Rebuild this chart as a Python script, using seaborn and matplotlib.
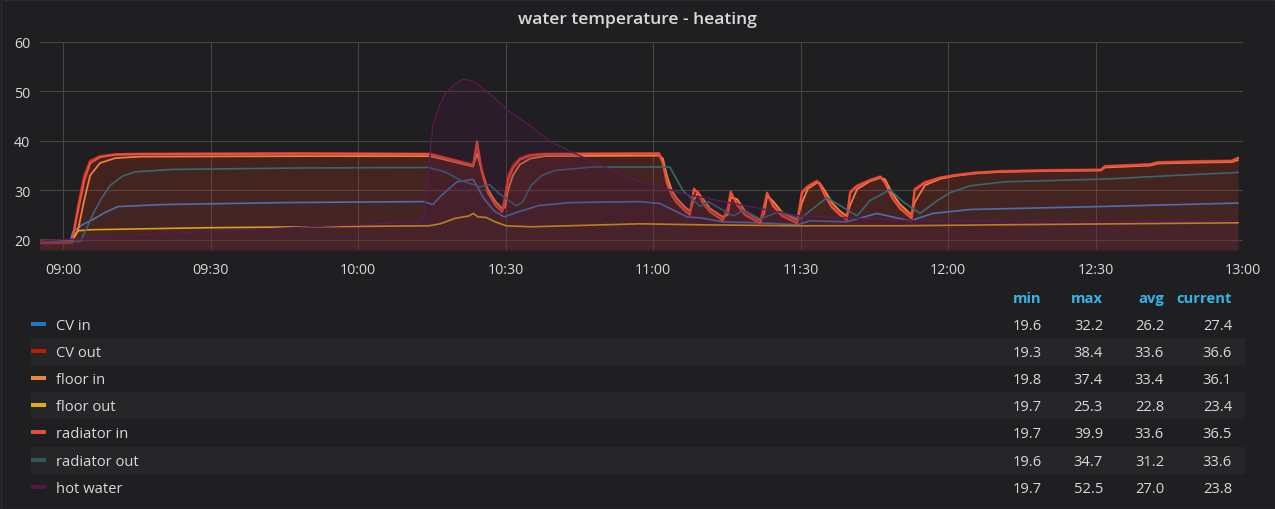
import matplotlib
matplotlib.use("Agg")
import matplotlib.pyplot as plt
import seaborn as sns
import pandas as pd
import numpy as np
from matplotlib.patches import Rectangle

# ---------------- data (minutes after 09:00) ----------------
series_names = ["CV in", "CV out", "floor in", "floor out", "radiator in", "radiator out", "hot water"]
series_colors = ["#1f78c1", "#bf1b00", "#ef843c", "#e5ac0e", "#e24d42", "#2f575e", "#511749"]

t_red = [-4.7, 1.8, 3.05, 4.3, 5.5, 7.5, 10.6, 15.7, 48.2, 74.6, 83.4, 84.2, 85.2, 86.4, 87.9, 89.3,
         89.9, 90.5, 91.5, 92.9, 95.0, 98.0, 121.2, 122.0, 122.8, 123.8, 124.8, 126.5, 127.5, 128.3,
         129.1, 130.2, 131.6, 134.2, 135.2, 135.8, 137.1, 138.7, 141.8, 142.6, 143.2, 144.4, 146.2,
         149.3, 150.3, 151.5, 153.3, 153.9, 154.9, 156.4, 158.0, 159.4, 160.1, 161.5, 164.1, 166.2,
         167.2, 168.6, 170.2, 172.6, 173.2, 175.3, 178.4, 181.4, 185.5, 190.6, 200.7, 211.1, 211.9,
         221.1, 222.7, 231.2, 237.7, 239.0]
radiator_in = [19.7, 19.7, 26.0, 32.0, 35.5, 36.7, 37.2, 37.3, 37.4, 37.3, 35.0, 39.9, 33.5, 29.5, 27.0, 25.6,
               28.0, 32.0, 34.5, 36.2, 37.0, 37.3, 37.4, 35.5, 31.5, 29.0, 27.5, 25.8, 25.0, 30.3,
               29.5, 27.3, 25.6, 23.9, 26.0, 29.7, 27.0, 25.0, 23.3, 26.5, 29.5, 26.8, 24.8,
               23.3, 29.5, 30.7, 31.8, 31.2, 29.0, 26.5, 25.0, 24.0, 29.5, 30.8, 32.0, 32.7,
               31.5, 28.5, 26.3, 24.3, 30.0, 31.5, 32.5, 33.0, 33.5, 33.8, 34.0, 34.1, 34.8,
               35.2, 35.6, 35.8, 35.9, 36.5]
cv_out = [19.3, 19.3, 27.0, 33.0, 36.0, 36.9, 37.3, 37.4, 37.5, 37.4, 35.2, 38.4, 34.0, 30.0, 27.5, 26.0,
          29.0, 33.0, 35.0, 36.5, 37.2, 37.4, 37.5, 36.0, 32.0, 29.5, 28.0, 26.2, 25.4, 29.8,
          29.8, 27.8, 26.0, 24.3, 26.5, 29.3, 27.5, 25.5, 23.7, 27.0, 29.2, 27.3, 25.2,
          23.7, 29.8, 30.9, 31.9, 31.5, 29.5, 27.0, 25.4, 24.4, 29.8, 31.0, 32.1, 32.8,
          32.0, 29.0, 26.8, 24.7, 30.3, 31.7, 32.6, 33.1, 33.6, 33.9, 34.1, 34.2, 34.9,
          35.3, 35.7, 35.9, 36.0, 36.6]
floor_in = [19.8, 19.8, 22.0, 28.0, 33.0, 35.5, 36.5, 36.8, 36.9, 36.9, 34.8, 37.4, 33.8, 30.2, 27.8, 26.3,
            26.5, 30.0, 33.0, 35.2, 36.4, 36.9, 37.0, 36.4, 33.0, 30.0, 28.4, 26.6, 25.8, 28.0,
            29.5, 28.2, 26.3, 24.6, 25.0, 28.5, 28.2, 25.8, 24.0, 25.2, 28.8, 27.8, 25.6,
            24.0, 27.5, 30.3, 31.5, 31.4, 30.0, 27.5, 25.8, 24.8, 27.0, 30.2, 31.8, 32.5,
            32.2, 29.5, 27.2, 25.0, 27.5, 31.0, 32.3, 32.9, 33.4, 33.7, 33.9, 34.0, 34.6,
            35.0, 35.4, 35.6, 35.7, 36.1]

t_rad_out = [-4.7, 3.5, 5.1, 6.3, 7.9, 9.6, 12.0, 14.6, 22.0, 48.2, 74.4, 77.7, 80.9, 84.8, 86.8, 88.5,
             90.1, 92.1, 93.4, 95.2, 97.4, 100.1, 107.6, 123.4, 126.1, 129.6, 131.2, 136.3, 138.3,
             141.8, 145.8, 149.9, 153.3, 155.4, 157.4, 161.5, 164.1, 168.2, 170.8, 174.3, 177.8,
             180.4, 184.5, 191.4, 202.8, 212.9, 224.3, 239.0]
radiator_out = [19.6, 19.6, 23.0, 25.6, 28.5, 31.0, 32.8, 33.7, 34.2, 34.5, 34.6, 33.7, 32.0, 30.7, 31.1, 29.5,
                28.3, 26.9, 27.5, 31.0, 33.0, 34.0, 34.7, 34.7, 29.9, 26.7, 27.7, 24.8, 25.9,
                24.2, 25.7, 24.2, 26.9, 28.5, 27.3, 24.8, 27.9, 30.1, 27.7, 25.3, 27.9,
                29.5, 30.9, 31.7, 32.0, 32.3, 32.9, 33.6]

t_cv_in = [-4.7, 1.4, 2.0, 3.9, 6.3, 8.5, 11.2, 20.3, 45.4, 73.4, 75.2, 76.9, 80.1, 83.4, 85.6, 87.7,
           89.7, 92.5, 96.8, 103.3, 117.3, 121.4, 124.9, 126.9, 129.6, 134.2, 141.8, 149.3, 151.9,
           159.4, 165.5, 172.3, 176.9, 184.5, 211.1, 239.0]
cv_in = [19.6, 19.6, 21.6, 23.0, 24.2, 25.5, 26.7, 27.1, 27.5, 27.7, 27.1, 28.9, 31.7, 32.2, 28.3, 25.8,
         24.6, 25.6, 26.9, 27.5, 27.7, 27.3, 25.6, 24.6, 24.4, 23.6, 23.4, 23.0, 23.8,
         23.6, 25.3, 23.8, 25.3, 26.1, 26.7, 27.4]

t_floor_out = [-4.7, 1.8, 3.05, 5.5, 28.7, 74.4, 76.7, 79.7, 82.6, 83.4, 84.4, 86.0, 87.9, 90.1, 95.2,
               117.3, 129.6, 149.3, 170.2, 190.6, 239.0]
floor_out = [19.7, 19.7, 21.8, 22.0, 22.4, 22.8, 23.2, 24.3, 24.8, 25.3, 24.6, 24.5, 23.6, 22.8, 22.6,
             23.2, 23.0, 22.8, 22.8, 23.0, 23.4]

t_hot = [-4.7, 20.3, 48.2, 72.6, 73.4, 74.2, 75.2, 76.5, 77.7, 79.7, 81.4, 83.4, 86.8, 90.1, 95.0,
         99.2, 107.6, 117.3, 119.4, 126.1, 139.7, 149.9, 173.7, 239.0]
hot_water = [19.7, 21.2, 22.5, 23.6, 24.5, 33.0, 43.0, 47.0, 49.5, 51.5, 52.5, 52.1, 49.5, 46.5, 43.0,
             39.8, 35.8, 31.7, 31.3, 29.3, 26.7, 24.8, 23.8, 23.8]

stat_headers = ["min", "max", "avg", "current"]
stat_min = ["19.6", "19.3", "19.8", "19.7", "19.7", "19.6", "19.7"]
stat_max = ["32.2", "38.4", "37.4", "25.3", "39.9", "34.7", "52.5"]
stat_avg = ["26.2", "33.6", "33.4", "22.8", "33.6", "31.2", "27.0"]
stat_cur = ["27.4", "36.6", "36.1", "23.4", "36.5", "33.6", "23.8"]

tick_minutes = [0, 30, 60, 90, 120, 150, 180, 210, 240]
tick_labels = ["09:00", "09:30", "10:00", "10:30", "11:00", "11:30", "12:00", "12:30", "13:00"]
y_ticks = [20, 30, 40, 50, 60]
title = "water temperature - heating"

# ---------------- style ----------------
BG = "#1f1e20"
TXT = "#d8d9da"
sns.set_theme(style="dark")
plt.rcParams["font.family"] = ["Open Sans", "DejaVu Sans"]

fig = plt.figure(figsize=(12.75, 5.1), dpi=100, facecolor=BG)
W, H = 1275, 510
ax = fig.add_axes([40 / W, 1 - 251 / H, (1243 - 40) / W, (251 - 43) / H])
ax.set_facecolor(BG)

series_t = [t_cv_in, t_red, t_red, t_floor_out, t_red, t_rad_out, t_hot]
series_v = [cv_in, cv_out, floor_in, floor_out, radiator_in, radiator_out, hot_water]
fill_alpha = [0.03, 0.11, 0.02, 0.015, 0.10, 0.03, 0.24]
line_w = [1.2, 1.6, 1.3, 1.2, 1.6, 1.2, 1.0]
line_c = ["#2a82d8", "#c8281a", "#ef843c", "#e5ac0e", "#e8503f", "#3a6670", "#5a1a52"]

YMIN = 17.9
for i, (name, col, tt, vv) in enumerate(zip(series_names, series_colors, series_t, series_v)):
    df = pd.DataFrame({"t": tt, "v": vv})
    ax.fill_between(df["t"], YMIN, df["v"], color=col, alpha=fill_alpha[i], linewidth=0, zorder=2 + 2 * i)
    sns.lineplot(data=df, x="t", y="v", ax=ax, color=line_c[i], linewidth=line_w[i], zorder=3 + 2 * i,
                 estimator=None, sort=False, legend=False)

ax.set_xlim(-4.7, 240)
ax.set_ylim(YMIN, 60)
ax.set_xticks(tick_minutes)
ax.set_xticklabels(tick_labels)
ax.set_yticks(y_ticks)
ax.set_xlabel("")
ax.set_ylabel("")
ax.grid(True, color="#454545", linewidth=0.8, zorder=1)
ax.set_axisbelow(True)
for s in ax.spines.values():
    s.set_visible(False)
ax.tick_params(axis="both", length=0, colors=TXT, labelsize=10.3)
ax.tick_params(axis="x", pad=9)
ax.tick_params(axis="y", pad=7)

# title
fig.text(638 / W, 1 - 20 / H, title, ha="center", va="center", color=TXT, fontsize=12.6,
         fontweight="semibold")

# legend table
row_y = [325, 352, 379, 406, 433, 461, 488]
row_h = 27
for i in range(len(series_names)):
    y = row_y[i]
    if i % 2 == 1:
        fig.patches.append(Rectangle((31 / W, 1 - (y + row_h / 2) / H), (1245 - 31) / W, row_h / H,
                                     transform=fig.transFigure, facecolor="#262527", edgecolor="none",
                                     zorder=0))
    fig.patches.append(Rectangle((31 / W, 1 - (y + 2) / H), 15 / W, 4 / H, transform=fig.transFigure,
                                 facecolor=series_colors[i], edgecolor="none", zorder=1))
    fig.text(56 / W, 1 - (y + 1.5) / H, series_names[i], ha="left", va="center", color=TXT, fontsize=10.6)
    for xr, vals in zip([1042, 1103, 1164, 1232], [stat_min, stat_max, stat_avg, stat_cur]):
        fig.text(xr / W, 1 - (y + 1.5) / H, vals[i], ha="right", va="center", color=TXT, fontsize=10.6)

for xr, h in zip([1042, 1103, 1164, 1232], stat_headers):
    fig.text(xr / W, 1 - 299 / H, h, ha="right", va="center", color="#33b5e5", fontsize=10.6,
             fontweight="bold")

# panel border
fig.patches.append(Rectangle((0.5 / W, 0.5 / H), 1 - 1 / W, 1 - 1 / H, transform=fig.transFigure,
                             facecolor="none", edgecolor="#2c2c2e", linewidth=1))

fig.savefig("out.png", dpi=100, facecolor=BG)
